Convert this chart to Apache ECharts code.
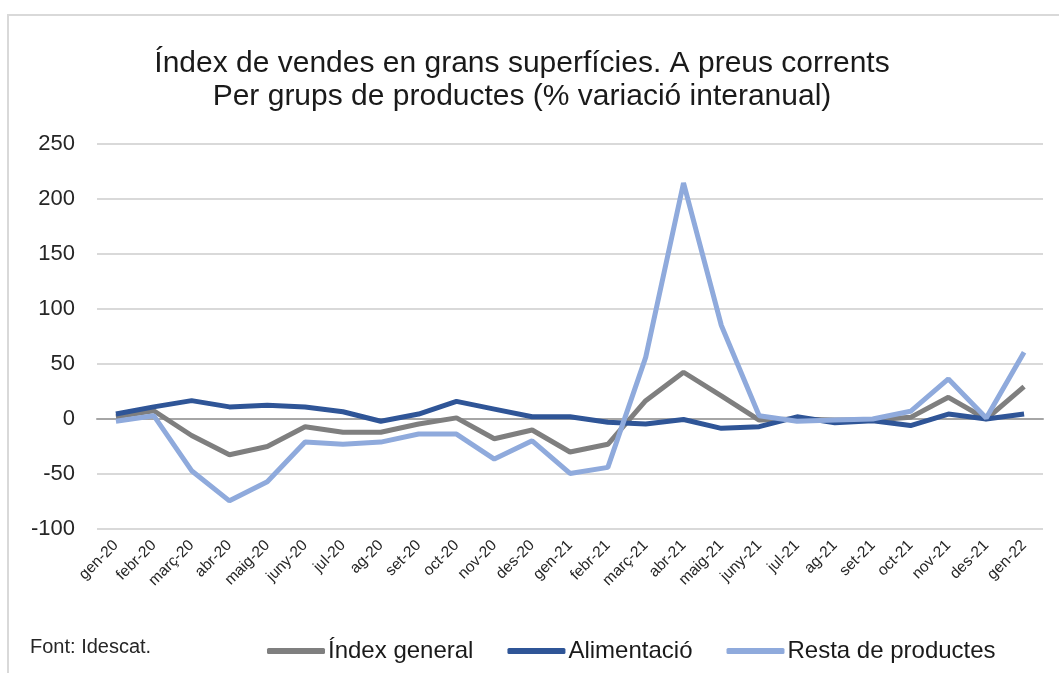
<!DOCTYPE html>
<html><head><meta charset="utf-8">
<script src="https://cdn.jsdelivr.net/npm/echarts@6/dist/echarts.min.js"></script>
<style>html,body{margin:0;padding:0;background:#fff}#c{width:1059px;height:673px}</style>
</head><body><div id="c"></div>
<script>
const categories = ['gen-20','febr-20','març-20','abr-20','maig-20','juny-20','jul-20','ag-20','set-20','oct-20','nov-20','des-20','gen-21','febr-21','març-21','abr-21','maig-21','juny-21','jul-21','ag-21','set-21','oct-21','nov-21','des-21','gen-22'];
const indexGeneral = [2, 7.5, -15, -32.5, -25, -7, -12, -12, -4.6, 1, -18, -10, -30, -23, 16.7, 42.5, 21, -1, 0, -1, -1, 1.5, 19.7, 0, 29.4];
const alimentacio = [4.5, 11, 16.7, 11, 12.4, 11, 6.6, -2, 4.5, 16, 9, 2, 2, -3, -4.6, -0.5, -8.5, -7, 2, -3.4, -1.5, -6, 4.5, 0, 4.5];
const restaProductes = [-2, 3, -47, -74.4, -57, -21, -23, -21, -13.7, -13.7, -36.4, -19.8, -49.5, -44, 56, 214.6, 85, 3, -2, -1, 0, 7, 36.4, 1, 60.7];
const yTicks = { min: -100, max: 250, interval: 50 };
const seriesNames = ['Índex general', 'Alimentació', 'Resta de productes'];
const colors = ['#7f7f7f', '#2f5597', '#8faadc'];

const chart = echarts.init(document.getElementById('c'));
const font = '"Liberation Sans", Arial, sans-serif';
chart.setOption({
  animation: false,
  backgroundColor: '#ffffff',
  textStyle: { fontFamily: font },
  graphic: [
    { type: 'rect', shape: { x: 8, y: 15, width: 1200, height: 800 }, style: { fill: 'none', stroke: '#d9d9d9', lineWidth: 2 }, silent: true },
    { type: 'text', left: 30, top: 637, style: { text: 'Font: Idescat.', fontSize: 20, fill: '#262626', fontFamily: font } }
  ],
  title: {
    text: 'Índex de vendes en grans superfícies. A preus corrents\nPer grups de productes (% variació interanual)',
    left: 517, textAlign: 'center', top: 42,
    textStyle: { fontSize: 30, fontWeight: 'normal', color: '#1a1a1a', lineHeight: 33, fontFamily: font }
  },
  legend: {
    left: 262, top: 634,
    icon: 'roundRect', itemWidth: 58, itemHeight: 6, itemGap: 34,
    textStyle: { fontSize: 24, color: '#1a1a1a', fontFamily: font, padding: [0, 0, 0, -2] },
    data: seriesNames
  },
  grid: { left: 97, right: 16, top: 144, bottom: 144 },
  xAxis: {
    type: 'category', data: categories, boundaryGap: true,
    axisLine: { onZero: true, lineStyle: { color: '#a6a6a6', width: 2 } },
    axisTick: { show: false },
    axisLabel: { rotate: 45, fontSize: 15.5, color: '#262626', margin: 14, interval: 0, fontFamily: font }
  },
  yAxis: {
    type: 'value', min: yTicks.min, max: yTicks.max, interval: yTicks.interval,
    axisLine: { show: false }, axisTick: { show: false },
    axisLabel: { fontSize: 22, color: '#262626', margin: 22, fontFamily: font },
    splitLine: { lineStyle: { color: '#d9d9d9', width: 2 } }
  },
  series: [
    { name: seriesNames[0], type: 'line', data: indexGeneral, symbol: 'none', lineStyle: { width: 5, color: colors[0] }, itemStyle: { color: colors[0] } },
    { name: seriesNames[1], type: 'line', data: alimentacio, symbol: 'none', lineStyle: { width: 5, color: colors[1] }, itemStyle: { color: colors[1] } },
    { name: seriesNames[2], type: 'line', data: restaProductes, symbol: 'none', lineStyle: { width: 5, color: colors[2] }, itemStyle: { color: colors[2] } }
  ]
});
</script></body></html>
